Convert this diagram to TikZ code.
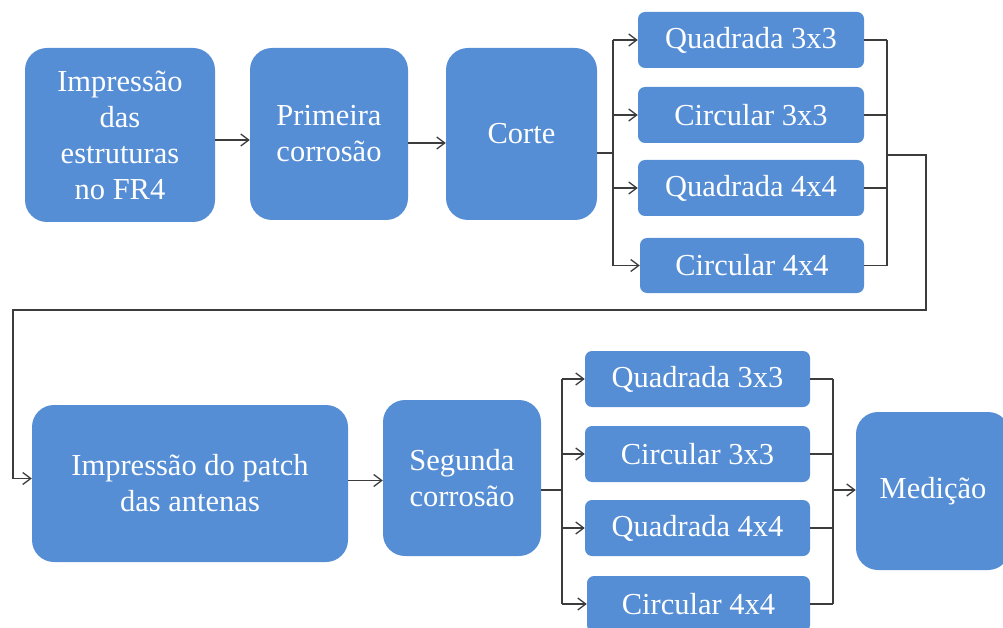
\documentclass[tikz,border=0pt]{standalone}
\usepackage{fontspec}
\setmainfont{Liberation Serif}
\usetikzlibrary{arrows.meta}
\definecolor{boxblue}{RGB}{85,142,213}
\definecolor{linegray}{RGB}{60,60,60}
\begin{document}
\begin{tikzpicture}[x=1pt,y=-1pt,
  blk/.style={fill=boxblue, text=white, font=\fontsize{30.5}{36}\selectfont, align=center, inner sep=0pt},
  bigbox/.style={blk, rounded corners=22pt},
  smallbox/.style={blk, rounded corners=7pt},
  conn/.style={draw=linegray, line width=1.3pt},
  arr/.style={conn, -{Straight Barb[length=8pt,width=12pt]}}]
\useasboundingbox (0,0) rectangle (1003,628);
\clip (0,0) rectangle (1003,628);
% top row
\node[bigbox, minimum width=190pt, minimum height=174pt] (imp) at (120,135) {Impressão\\das\\estruturas\\no FR4};
\node[bigbox, minimum width=158pt, minimum height=172pt] (prim) at (329,134) {Primeira\\corrosão};
\node[bigbox, minimum width=151pt, minimum height=172pt] (corte) at (521.5,134) {Corte};
\node[smallbox, minimum width=226pt, minimum height=56pt] (q33) at (751,40) {Quadrada 3x3};
\node[smallbox, minimum width=226pt, minimum height=56pt] (c33) at (751,115) {Circular 3x3};
\node[smallbox, minimum width=226pt, minimum height=56pt] (q44) at (751,188) {Quadrada 4x4};
\node[smallbox, minimum width=224pt, minimum height=55pt] (c44) at (752,265.5) {Circular 4x4};
% bottom row
\node[bigbox, minimum width=316pt, minimum height=157pt] (patch) at (190,483.5) {Impressão do patch\\das antenas};
\node[bigbox, minimum width=158pt, minimum height=156pt] (seg) at (462,478) {Segunda\\corrosão};
\node[smallbox, minimum width=225pt, minimum height=56pt] (bq33) at (697.5,379) {Quadrada 3x3};
\node[smallbox, minimum width=225pt, minimum height=56pt] (bc33) at (697.5,454) {Circular 3x3};
\node[smallbox, minimum width=225pt, minimum height=56pt] (bq44) at (697.5,528) {Quadrada 4x4};
\node[smallbox, minimum width=223pt, minimum height=56pt] (bc44) at (698.5,604) {Circular 4x4};
\node[bigbox, minimum width=154pt, minimum height=158pt] (med) at (933,491) {Medição};
% coordinates
\coordinate (t1) at (613,153);
\coordinate (m1) at (887,155);
\coordinate (w1) at (926,310);
\coordinate (w2) at (13,310);
\coordinate (t2) at (562,490);
\coordinate (m2) at (833,490);
% top connectors
\draw[arr] ([yshift=-5pt]imp.east) -- ([yshift=-5pt]imp.east -| prim.west);
\draw[arr] ([yshift=-9pt]prim.east) -- ([yshift=-9pt]prim.east -| corte.west);
\draw[conn] (corte.east |- t1) -- (t1);
\draw[conn] (t1 |- q33.west) -- (t1 |- c44.west);
\draw[arr] (t1 |- q33.west) -- (q33.west);
\draw[arr] (t1 |- c33.west) -- (c33.west);
\draw[arr] (t1 |- q44.west) -- (q44.west);
\draw[arr] (t1 |- c44.west) -- (c44.west);
\draw[conn] (q33.east) -- (q33.east -| m1);
\draw[conn] (c33.east) -- (c33.east -| m1);
\draw[conn] (q44.east) -- (q44.east -| m1);
\draw[conn] (c44.east) -- (c44.east -| m1);
\draw[conn] (m1 |- q33.east) -- (m1 |- c44.east);
% wrap-around connector
\draw[arr] (m1) -| (w1) -- (w2) |- ([yshift=5pt]patch.west);
% bottom connectors
\draw[arr] ([yshift=3pt]patch.east) -- ([yshift=3pt]patch.east -| seg.west);
\draw[conn] (seg.east |- t2) -- (t2);
\draw[conn] (t2 |- bq33.west) -- (t2 |- bc44.west);
\draw[arr] (t2 |- bq33.west) -- (bq33.west);
\draw[arr] (t2 |- bc33.west) -- (bc33.west);
\draw[arr] (t2 |- bq44.west) -- (bq44.west);
\draw[arr] (t2 |- bc44.west) -- (bc44.west);
\draw[conn] (bq33.east) -- (bq33.east -| m2);
\draw[conn] (bc33.east) -- (bc33.east -| m2);
\draw[conn] (bq44.east) -- (bq44.east -| m2);
\draw[conn] (bc44.east) -- (bc44.east -| m2);
\draw[conn] (m2 |- bq33.east) -- (m2 |- bc44.east);
\draw[arr] (m2) -- (m2 -| med.west);
\end{tikzpicture}
\end{document}
